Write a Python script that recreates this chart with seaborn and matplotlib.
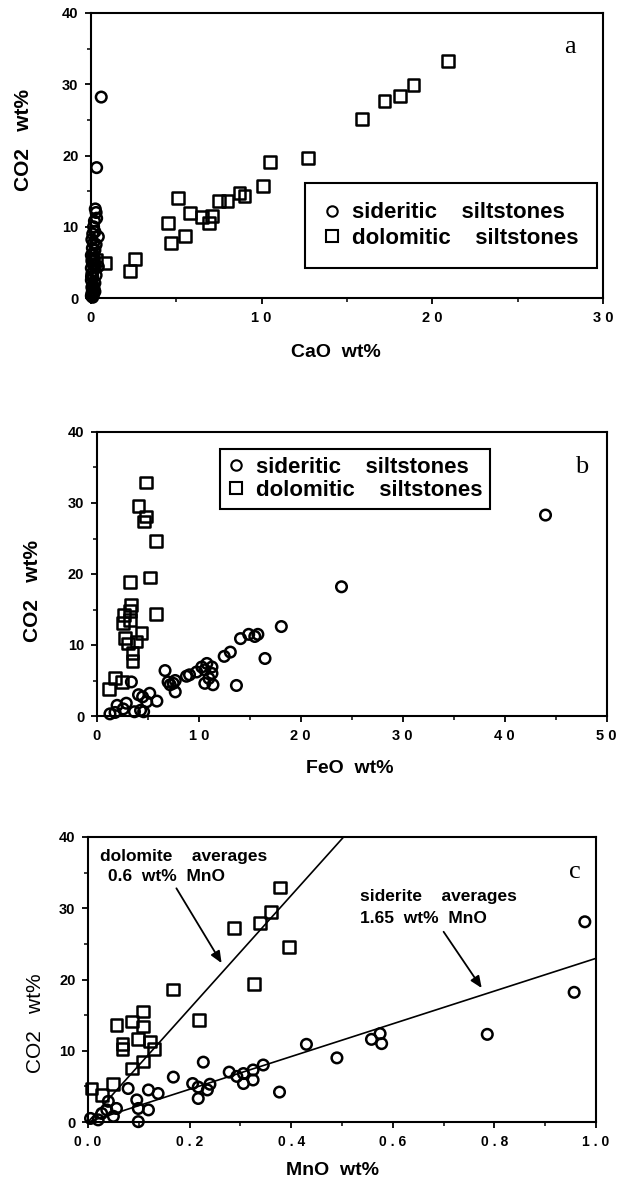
import numpy as np
import pandas as pd
import matplotlib
matplotlib.use("Agg")
import matplotlib.pyplot as plt
from matplotlib.lines import Line2D
from matplotlib.ticker import MultipleLocator
import seaborn as sns

# ---------------- data ----------------
# Panel a: CaO vs CO2
a_sid_cao = [0.60, 0.33, 0.25, 0.30, 0.33, 0.20, 0.15, 0.43, 0.23, 0.10, 0.05, 0.15, 0.30, 0.08,
             0.23, 0.12, 0.02, 0.18, 0.05, 0.43, 0.10, 0.25, 0.02, 0.15, 0.05, 0.30, 0.10, 0.23,
             0.02, 0.12, 0.05, 0.23, 0.08, 0.15, 0.02, 0.10, 0.05, 0.18, 0.03, 0.08]
a_sid_co2 = [28.2, 18.3, 12.5, 12.0, 11.2, 10.8, 10.0, 8.6, 9.3, 9.0, 8.2, 7.7, 7.5, 7.0,
             6.7, 6.2, 6.0, 5.6, 5.2, 4.4, 4.8, 4.5, 4.2, 3.8, 3.4, 3.2, 3.0, 2.1,
             2.5, 1.8, 1.5, 0.9, 1.0, 0.5, 0.3, 0.1, 0.6, 1.3, 3.0, 5.5]
a_dol_cao = [0.3, 0.82, 2.3, 2.6, 4.5, 4.7, 5.1, 5.5, 5.8, 6.5, 6.9, 7.1, 7.5, 8.0, 8.7, 9.0,
             10.1, 10.5, 12.7, 15.9, 17.2, 18.1, 18.9, 20.9]
a_dol_co2 = [5.3, 4.9, 3.8, 5.5, 10.5, 7.7, 14.0, 8.7, 11.9, 11.4, 10.5, 11.5, 13.6, 13.6, 14.7, 14.3,
             15.7, 19.1, 19.6, 25.1, 27.6, 28.4, 29.9, 33.3]

# Panel b: FeO vs CO2
b_sid_feo = [1.3, 1.8, 2.0, 2.6, 2.9, 3.4, 3.7, 4.1, 4.5, 5.2, 4.9, 5.9, 4.6, 4.3, 6.7, 7.0,
             7.5, 7.7, 7.2, 7.7, 8.8, 9.1, 9.8, 10.3, 10.6, 10.8, 11.3, 11.0, 11.3, 10.6, 11.4,
             12.5, 13.1, 13.7, 14.1, 14.9, 15.5, 15.8, 16.5, 18.1, 24.0, 44.0]
b_sid_co2 = [0.3, 0.5, 1.5, 1.0, 1.8, 4.8, 0.6, 3.0, 2.7, 3.2, 2.0, 2.1, 0.6, 0.8, 6.4, 4.8,
             4.6, 3.4, 4.4, 5.0, 5.6, 5.8, 6.2, 6.9, 6.5, 7.4, 6.9, 5.3, 6.0, 4.6, 4.4,
             8.4, 9.0, 4.3, 10.9, 11.5, 11.2, 11.5, 8.1, 12.6, 18.2, 28.3]
b_dol_feo = [1.24, 1.8, 2.45, 2.7, 2.55, 3.25, 3.27, 3.4, 3.3, 2.8, 3.1, 3.5, 3.5, 3.9, 4.4,
             4.1, 4.6, 4.8, 4.8, 5.8, 5.2, 5.8]
b_dol_co2 = [3.8, 5.4, 4.8, 14.2, 13.1, 13.5, 18.9, 15.6, 14.8, 11.0, 10.2, 8.9, 7.7, 10.5, 11.7,
             29.6, 27.4, 28.1, 32.9, 24.7, 19.5, 14.4]

# Panel c: MnO vs CO2
c_sid_mno = [0.005, 0.02, 0.027, 0.037, 0.05, 0.056, 0.04, 0.079, 0.096, 0.099, 0.099, 0.119,
             0.119, 0.138, 0.168, 0.206, 0.217, 0.217, 0.227, 0.235, 0.24, 0.278, 0.293, 0.306,
             0.306, 0.325, 0.325, 0.345, 0.377, 0.430, 0.490, 0.558, 0.575, 0.578, 0.786,
             0.957, 0.978]
c_sid_co2 = [0.5, 0.3, 1.2, 1.7, 0.8, 1.9, 2.9, 4.7, 3.1, 0.05, 1.9, 4.5, 1.7, 4.0, 6.3, 5.4,
             3.3, 4.9, 8.4, 4.5, 5.3, 7.0, 6.4, 6.8, 5.4, 7.3, 5.9, 8.0, 4.2, 10.9, 9.0, 11.6,
             12.4, 11.0, 12.3, 18.2, 28.1]
c_dol_mno = [0.007, 0.027, 0.049, 0.056, 0.068, 0.068, 0.086, 0.086, 0.099, 0.109, 0.109, 0.109,
             0.122, 0.130, 0.168, 0.218, 0.287, 0.327, 0.339, 0.360, 0.378, 0.396]
c_dol_co2 = [4.7, 3.8, 5.3, 13.6, 11.0, 10.3, 14.1, 7.5, 11.7, 15.5, 13.4, 8.5, 11.3, 10.3, 18.6,
             14.3, 27.2, 19.4, 27.9, 29.5, 32.9, 24.6]

# reference lines: CO2 = slope * MnO (mineral CO2 content / mean MnO)
dol_slope = 47.7 / 0.6
sid_slope = 37.9 / 1.65
line_x = [0.0, 1.0]

legend_labels = ["sideritic    siltstones", "dolomitic    siltstones"]
a_xticks, a_xticklabels = [0, 10, 20, 30], ["0", "1 0", "2 0", "3 0"]
b_xticks, b_xticklabels = [0, 10, 20, 30, 40, 50], ["0", "1 0", "2 0", "3 0", "4 0", "5 0"]
c_xticks, c_xticklabels = [0, 0.2, 0.4, 0.6, 0.8, 1.0], ["0 . 0", "0 . 2", "0 . 4", "0 . 6", "0 . 8", "1 . 0"]
yticks, yticklabels = [0, 10, 20, 30, 40], ["0", "10", "20", "30", "40"]

# ---------------- style ----------------
sns.set_style("ticks")
plt.rcParams["font.family"] = ["Liberation Sans", "DejaVu Sans"]
plt.rcParams["axes.linewidth"] = 1.5
for k in ["text.color", "axes.labelcolor", "xtick.color", "ytick.color", "axes.edgecolor"]:
    plt.rcParams[k] = "black"

fig = plt.figure(figsize=(6.3, 11.86), dpi=100)
ax_a = fig.add_axes([91 / 630, 1 - 298 / 1186, 512 / 630, 285 / 1186])
ax_b = fig.add_axes([96.7 / 630, 1 - 716 / 1186, 510 / 630, 284 / 1186])
ax_c = fig.add_axes([88 / 630, 1 - 1122 / 1186, 508 / 630, 285 / 1186])

S_CIRC, S_SQ, LW = 58, 72, 1.8


def scatter(ax, x, y, marker, s):
    sns.scatterplot(x=x, y=y, ax=ax, marker=marker, s=s, facecolors="none",
                    edgecolor="black", linewidth=LW, clip_on=False, zorder=3)


def style_axes(ax, xlim, xticks, xticklabels, xminor, ylabel_bold, xlab, ylab,
               xlabel_pos, ylabel_pos, xtick_size):
    ax.set_xlim(*xlim)
    ax.set_ylim(0, 40)
    ax.set_xticks(xticks)
    ax.set_xticklabels(xticklabels, fontsize=xtick_size, fontweight="bold")
    ax.set_yticks(yticks)
    ax.set_yticklabels(yticklabels, fontsize=10.5, fontweight="bold")
    ax.xaxis.set_minor_locator(MultipleLocator(xminor))
    ax.yaxis.set_minor_locator(MultipleLocator(5))
    ax.tick_params(which="major", direction="out", length=4, width=1.3, pad=5, colors="black")
    ax.tick_params(which="minor", direction="out", length=3, width=1.1, colors="black")
    for sp in ax.spines.values():
        sp.set_visible(True)
        sp.set_linewidth(1.5)
        sp.set_color("black")
    ax.set_xlabel(xlab, fontsize=14, fontweight="bold", color="black")
    ax.set_ylabel(ylab, fontsize=15, fontweight="bold" if ylabel_bold else "normal", color="black")
    ax.xaxis.set_label_coords(*xlabel_pos)
    ax.yaxis.set_label_coords(*ylabel_pos)


def add_legend(ax, bbox, fontsize, pad, spacing):
    handles = [
        Line2D([], [], marker="o", linestyle="none", markerfacecolor="none",
               markeredgecolor="black", markersize=7.5, markeredgewidth=1.5),
        Line2D([], [], marker="s", linestyle="none", markerfacecolor="none",
               markeredgecolor="black", markersize=8, markeredgewidth=1.5),
    ]
    leg = ax.legend(handles, legend_labels, loc="center", bbox_to_anchor=bbox,
                    frameon=True, fancybox=False, shadow=False, borderpad=pad,
                    handlelength=0.7, handletextpad=0.55, labelspacing=spacing,
                    prop={"family": "Liberation Sans", "weight": "bold", "size": fontsize})
    fr = leg.get_frame()
    fr.set_edgecolor("black")
    fr.set_linewidth(1.5)
    fr.set_alpha(1)
    for t in leg.get_texts():
        t.set_color("black")


# ---- panel a ----
scatter(ax_a, a_sid_cao, a_sid_co2, "o", S_CIRC)
scatter(ax_a, a_dol_cao, a_dol_co2, "s", S_SQ)
style_axes(ax_a, (0, 30), a_xticks, a_xticklabels, 5, True, "CaO  wt%", "CO2   wt%",
           (0.478, -0.16), (-0.113, 0.554), 10.5)
add_legend(ax_a, (0.428, 0.112, 0.552, 0.284), 16, 0.85, 0.2)
ax_a.text(0.935, 0.88, "a", transform=ax_a.transAxes, fontsize=19,
          family="Liberation Serif", ha="center", va="center")

# ---- panel b ----
scatter(ax_b, b_sid_feo, b_sid_co2, "o", S_CIRC)
scatter(ax_b, b_dol_feo, b_dol_co2, "s", S_SQ)
style_axes(ax_b, (0, 50), b_xticks, b_xticklabels, 5, True, "FeO  wt%", "CO2   wt%",
           (0.497, -0.155), (-0.107, 0.44), 10.5)
add_legend(ax_b, (0.228, 0.722, 0.557, 0.225), 16, 0.35, 0.1)
ax_b.text(0.95, 0.877, "b", transform=ax_b.transAxes, fontsize=19,
          family="Liberation Serif", ha="center", va="center")

# ---- panel c ----
scatter(ax_c, c_sid_mno, c_sid_co2, "o", S_CIRC)
scatter(ax_c, c_dol_mno, c_dol_co2, "s", S_SQ)
lx = np.array(line_x)
sns.lineplot(x=lx, y=dol_slope * lx, ax=ax_c, color="black", linewidth=1.2, zorder=2)
sns.lineplot(x=lx, y=sid_slope * lx, ax=ax_c, color="black", linewidth=1.2, zorder=2)
style_axes(ax_c, (0, 1.0), c_xticks, c_xticklabels, 0.1, False, "MnO  wt%", "CO2   wt%",
           (0.482, -0.14), (-0.085, 0.347), 10)

txt_kw = dict(fontsize=12.5, fontweight="bold", ha="left", va="center", color="black")
ax_c.text(0.024, 37.2, "dolomite    averages", **txt_kw)
ax_c.text(0.039, 34.4, "0.6  wt%  MnO", **txt_kw)
ax_c.text(0.535, 31.6, "siderite    averages", **txt_kw)
ax_c.text(0.535, 28.5, "1.65  wt%  MnO", **txt_kw)
arrow_kw = dict(arrowstyle="-|>,head_length=0.7,head_width=0.3", color="black", lw=1.3,
                shrinkA=0, shrinkB=0)
ax_c.annotate("", xy=(0.263, 22.3), xytext=(0.174, 32.8), arrowprops=arrow_kw)
ax_c.annotate("", xy=(0.775, 18.8), xytext=(0.70, 26.7), arrowprops=arrow_kw)
ax_c.text(0.959, 0.877, "c", transform=ax_c.transAxes, fontsize=19,
          family="Liberation Serif", ha="center", va="center")

fig.savefig("out.png", dpi=100, facecolor="white")
